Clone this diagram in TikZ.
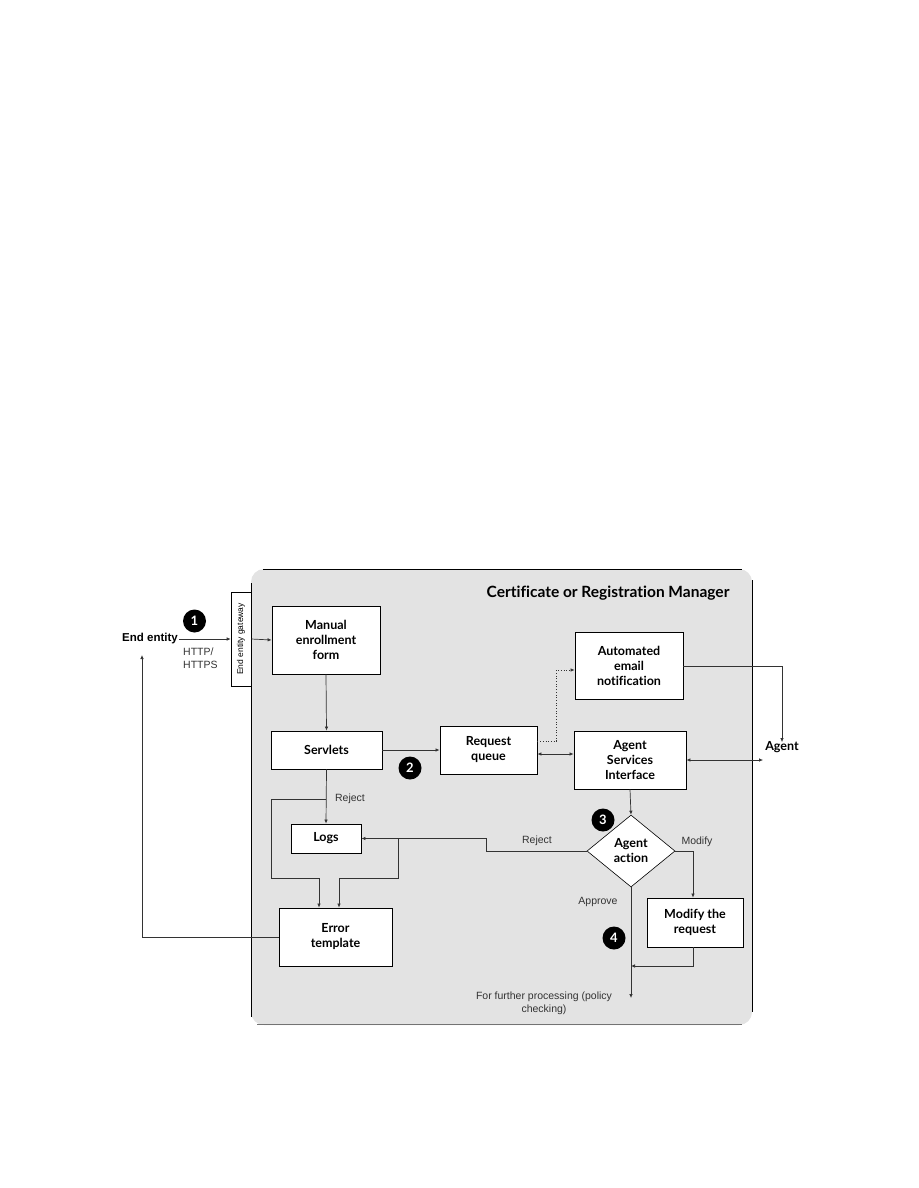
\documentclass[tikz,border=0pt]{standalone}
\usepackage{fontspec}
\setmainfont{Liberation Sans}
\newfontfamily\boxfont[Ligatures=NoCommon]{Lato}
\usetikzlibrary{arrows.meta,positioning,shapes.geometric,calc}

\begin{document}
\begin{tikzpicture}[x=1pt,y=-1pt,
  box/.style={draw,fill=white,line width=0.8pt,align=center,inner sep=0pt,
    font=\boxfont\bfseries\fontsize{12.5}{15}\selectfont},
  lbl/.style={font=\fontsize{10.5}{13}\selectfont,text=black!80,inner sep=1pt},
  num/.style={circle,fill=black,text=white,minimum size=23pt,inner sep=0pt,
    font=\boxfont\bfseries\fontsize{13}{13}\selectfont},
  arr/.style={-{Latex[length=4pt,width=3.5pt]},line width=0.7pt,draw=black!80},
  dbl/.style={{Latex[length=4pt,width=3.5pt]}-{Latex[length=4pt,width=3.5pt]},line width=0.7pt,draw=black!80}]
\useasboundingbox (0,0) rectangle (918,1188);
% manager panel
\fill[black!11,rounded corners=13pt] (251,569) rectangle (752,1025);
\draw[line width=1pt] (263,569) -- (742,569);
\draw[line width=1pt] (251,583) -- (251,1017);
\draw[line width=1pt] (752,580) -- (752,1012);
\draw[line width=1pt,black!55] (257,1024.5) -- (742,1024.5);
\node[anchor=east,font=\boxfont\bfseries\fontsize{15.5}{18}\selectfont] (title) at (733,593) {Certificate or Registration Manager};
% nodes
\node[font=\bfseries\fontsize{11.5}{14}\selectfont,inner sep=1pt] (ee) at (150,639) {End entity};
\node[box,line width=0.6pt,minimum width=20pt,minimum height=94pt] (gw) at (241,639) {};
\node[rotate=90,font=\fontsize{8.5}{10}\selectfont] (gwt) at (gw.center) {End entity gateway};
\node[box,minimum width=108pt,minimum height=68pt] (form) at (326,640) {Manual\\ enrollment\\ form};
\node[box,minimum width=111pt,minimum height=38pt] (serv) at (326.5,750) {Servlets};
\node[box,minimum width=97pt,minimum height=48pt] (queue) at (488.5,750) {Request\\ queue};
\node[box,minimum width=108pt,minimum height=67pt] (email) at (629,665.5) {Automated\\ email\\ notification};
\node[box,minimum width=112pt,minimum height=58pt] (asi) at (630,760) {Agent\\ Services\\ Interface};
\node[font=\boxfont\bfseries\fontsize{12.5}{15}\selectfont,inner sep=2pt] (agent) at (782,747) {Agent};
\node[box,diamond,minimum width=88pt,minimum height=72pt,line width=0.6pt] (dia) at (631,851) {Agent\\ action};
\node[box,minimum width=96pt,minimum height=49pt] (mod) at (695,922.5) {Modify the\\ request};
\node[box,minimum width=70pt,minimum height=29pt] (logs) at (326,838.5) {Logs};
\node[box,minimum width=113pt,minimum height=58pt] (err) at (335.5,937) {Error\\ template};
\node[lbl,align=center] (fp) at (544,1003) {For further processing (policy\\ checking)};
\node[num] (n1) at (194.5,621) {1};
\node[num] (n2) at (410,768) {2};
\node[num] (n3) at (603,820) {3};
\node[num] (n4) at (614,938) {4};
\node[lbl,align=left,anchor=west] (http) at (182,658) {HTTP/\\ HTTPS};
\node[lbl] (rj1) at (350,799) {Reject};
\node[lbl] (rj2) at (537,841) {Reject};
\node[lbl] (mdl) at (697,842) {Modify};
\node[lbl] (apl) at (598,902) {Approve};
\coordinate (eein) at (142,655);
\coordinate (sr) at (326,799);
\coordinate (lr) at (398,839);
\coordinate (mj) at (631,966);
\coordinate (fpe) at (631,998);
% connectors
\draw[arr] (ee.east) -- (gw.west);
\draw[arr] (gw.east) -- (form.west);
\draw[arr] (form.south) -- (serv.north);
\draw[arr] (serv.east) -- (queue.west);
\draw[arr,dotted] ([yshift=9pt]queue.east) -- ++(19,0) |- ([yshift=-4.5pt]email.west);
\draw[dbl] ([yshift=-4pt]queue.east) -- ([yshift=6pt]asi.west);
\draw[arr] ([yshift=-0.5pt]email.east) -| ([yshift=-3pt]agent.north);
\draw[dbl] (asi.east) -- (asi.east -| agent.west);
\draw[arr] (asi.south) -- (dia.north);
\draw[arr] (serv.south) -- (logs.north);
\draw[arr] (sr) -- ++(-55,0) -- ++(0,79) -| ([xshift=-16.5pt]err.north);
\draw[arr] (dia.west) -- ++(-100,0) |- (logs.east);
\draw[arr] (lr) -- ++(0,39) -| ([xshift=3.5pt]err.north);
\draw[arr] (err.west) -| (eein);
\draw[arr] (dia.east) -| ([xshift=-2pt]mod.north);
\draw[arr] ([xshift=-2pt]mod.south) |- (mj);
\draw[arr] (dia.south) -- (fpe);
\end{tikzpicture}
\end{document}
